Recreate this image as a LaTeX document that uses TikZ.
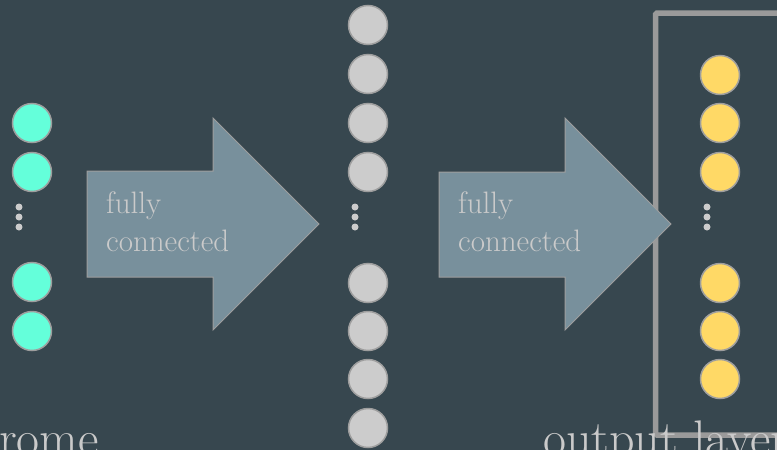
\documentclass[tikz,border=0pt]{standalone}
\definecolor{bgc}{HTML}{37474F}
\definecolor{arrowfill}{HTML}{78909C}
\definecolor{edgegray}{HTML}{9E9E9E}
\definecolor{boxgray}{HTML}{9A9A9A}
\definecolor{txtgray}{HTML}{CACACA}
\definecolor{cyanc}{HTML}{64FFDA}
\definecolor{yellowc}{HTML}{FFD966}
\definecolor{grayc}{HTML}{CCCCCC}
\tikzset{
  neuron/.style={circle, minimum size=39pt, inner sep=0pt, draw=edgegray, line width=1.5pt},
  inneuron/.style={neuron, fill=cyanc},
  hidneuron/.style={neuron, fill=grayc},
  outneuron/.style={neuron, fill=yellowc},
  dotc/.style={circle, fill=grayc, minimum size=7pt, inner sep=0pt},
  fcarrow/.style={fill=arrowfill, draw=edgegray, line width=1pt, line join=miter},
  fctext/.style={anchor=north west, inner sep=0pt, align=left, text=txtgray, font=\fontsize{31}{38}\selectfont},
  biglabel/.style={anchor=base west, inner sep=0pt, text=txtgray, font=\fontsize{50}{55}\selectfont},
}
\begin{document}
\begin{tikzpicture}[x=1pt, y=-1pt]
\useasboundingbox (0,0) rectangle (777,450);
\fill[bgc] (0,0) rectangle (777,450);
\begin{scope}
\clip (0,0) rectangle (777,450);
% output box
\draw[boxgray, line width=5.5pt, rounded corners=1.5pt] (795,13) -- (655.5,13) -- (655.5,435) -- (795,435);
% labels
\node[biglabel, anchor=base east] (inlabel) at (99,455) {rome};
\node[biglabel] (outlabel) at (543,455) {output layer};
\end{scope}
% input layer
\node[inneuron] (i1) at (32,123) {};
\node[inneuron] (i2) at (32,172) {};
\node[dotc] (id1) at (19,207) {};
\node[dotc] (id2) at (19,217) {};
\node[dotc] (id3) at (19,227) {};
\node[inneuron] (i3) at (32,282) {};
\node[inneuron] (i4) at (32,331) {};
% arrow 1
\draw[fcarrow] (87,171) -- (213,171) -- (213,118) -- (319,224) -- (213,330) -- (213,277) -- (87,277) -- cycle;
\node[fctext] (fc1) at (106,192) {fully\\connected};
% hidden layer
\node[hidneuron] (h1) at (368,25) {};
\node[hidneuron] (h2) at (368,74) {};
\node[hidneuron] (h3) at (368,123) {};
\node[hidneuron] (h4) at (368,172) {};
\node[dotc] (hd1) at (355,207) {};
\node[dotc] (hd2) at (355,217) {};
\node[dotc] (hd3) at (355,227) {};
\node[hidneuron] (h5) at (368,283) {};
\node[hidneuron] (h6) at (368,331) {};
\node[hidneuron] (h7) at (368,379) {};
\node[hidneuron] (h8) at (368,428) {};
% arrow 2
\draw[fcarrow] (439,172) -- (565,172) -- (565,118) -- (671,224) -- (565,330) -- (565,277) -- (439,277) -- cycle;
\node[fctext] (fc2) at (458,192) {fully\\connected};
% output layer
\node[outneuron] (o1) at (720,75) {};
\node[outneuron] (o2) at (720,123) {};
\node[outneuron] (o3) at (720,172) {};
\node[dotc] (od1) at (707,207) {};
\node[dotc] (od2) at (707,217) {};
\node[dotc] (od3) at (707,227) {};
\node[outneuron] (o4) at (720,283) {};
\node[outneuron] (o5) at (720,331) {};
\node[outneuron] (o6) at (720,379) {};
\end{tikzpicture}
\end{document}
